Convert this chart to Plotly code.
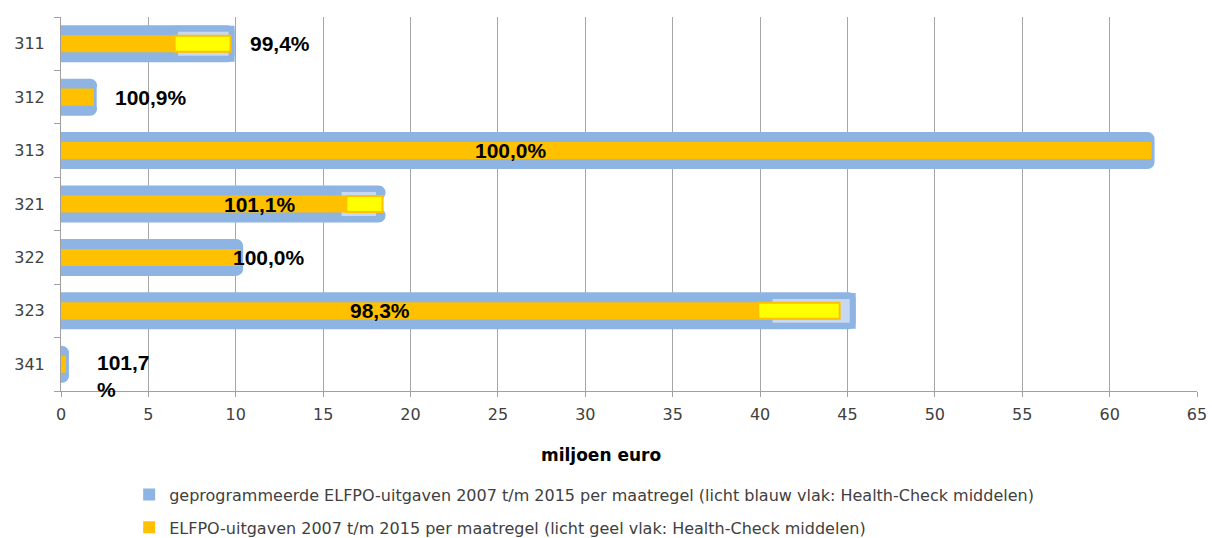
import plotly.graph_objects as go

categories = ["311", "312", "313", "321", "322", "323", "341"]
programmed = [9.76, 1.87, 62.4, 18.2, 10.25, 45.3, 0.28]
programmed_hc = [3.24, None, None, 2.32, None, 4.76, None]
spent = [9.70, 1.89, 62.4, 18.4, 10.25, 44.55, 0.285]
spent_hc = [3.2, None, None, 2.07, None, 4.65, None]
pct_labels = ["99,4%", "100,9%", "100,0%", "101,1%", "100,0%", "98,3%", "101,7<br>%"]
label_x = [10.69, 2.97, 23.55, 9.19, 9.7, 16.4, 1.94]
x_ticks = list(range(0, 70, 5))
legend_names = [
    "geprogrammeerde ELFPO-uitgaven 2007 t/m 2015 per maatregel (licht blauw vlak: Health-Check middelen)",
    "ELFPO-uitgaven 2007 t/m 2015 per maatregel (licht geel vlak: Health-Check middelen)",
]

BLUE = "#8DB4E2"
LIGHT_BLUE = "#C6D9F1"
ORANGE = "#FFC000"
YELLOW = "#FFFF00"
AXIS = "#A0A0A0"

ypos = list(range(len(categories)))
boundaries = [i - 0.5 for i in range(len(categories) + 1)]
prog_hc_base = [p - h if h is not None else None for p, h in zip(programmed, programmed_hc)]
spent_hc_base = [s - h if h is not None else None for s, h in zip(spent, spent_hc)]

fig = go.Figure()
fig.add_trace(go.Bar(
    y=ypos, x=programmed, orientation="h", width=0.58,
    marker=dict(color=BLUE, line=dict(color=BLUE, width=6), cornerradius=4),
    showlegend=False, hoverinfo="skip",
))
fig.add_trace(go.Bar(
    y=ypos, x=programmed_hc, base=prog_hc_base, orientation="h", width=0.56,
    marker=dict(color=LIGHT_BLUE, line=dict(color=BLUE, width=6)),
    showlegend=False, hoverinfo="skip",
))
fig.add_trace(go.Bar(
    y=ypos, x=spent, orientation="h", width=0.32,
    marker=dict(color=ORANGE, line=dict(width=0)),
    showlegend=False, hoverinfo="skip",
))
fig.add_trace(go.Bar(
    y=ypos, x=spent_hc, base=spent_hc_base, orientation="h", width=0.30,
    marker=dict(color=YELLOW, line=dict(color=ORANGE, width=2)),
    showlegend=False, hoverinfo="skip",
))
# legend entries
for nm, col, grp in zip(legend_names, [BLUE, ORANGE], ["a", "b"]):
    fig.add_trace(go.Bar(
        y=[None], x=[None], orientation="h", name=nm, legendgroup=grp,
        marker=dict(color=col, line=dict(width=0)), hoverinfo="skip",
    ))

for yp, txt, lx in zip(ypos, pct_labels, label_x):
    multi = "<br>" in txt
    fig.add_annotation(
        x=lx, y=yp, text="<b>" + txt + "</b>", showarrow=False,
        xanchor="left", yanchor="top" if multi else "middle", align="left",
        yshift=15 if multi else 0,
        font=dict(family="Liberation Sans, Arial, sans-serif", size=21, color="#000000"),
    )

fig.add_annotation(
    x=0.475, y=-0.17, xref="paper", yref="paper", showarrow=False,
    text="<b>miljoen euro</b>", xanchor="center", yanchor="middle",
    font=dict(family="DejaVu Sans, Verdana, sans-serif", size=17, color="#000000"),
)

fig.update_layout(
    width=1212, height=538,
    margin=dict(l=61, r=15, t=17, b=147),
    barmode="overlay",
    plot_bgcolor="white", paper_bgcolor="white",
    font=dict(family="DejaVu Sans, Verdana, sans-serif", size=16, color="#404040"),
    showlegend=True,
    legend=dict(
        x=0.060, y=0.1123, xref="paper", yref="container", xanchor="left", yanchor="top",
        orientation="v", traceorder="grouped", tracegroupgap=9,
        font=dict(family="DejaVu Sans, Verdana, sans-serif", size=16, color="#404040"),
        bgcolor="rgba(0,0,0,0)",
    ),
    xaxis=dict(
        range=[0, 65], tickvals=x_ticks, showgrid=True, gridcolor="#A6A6A6", gridwidth=1,
        showline=True, linecolor=AXIS, linewidth=1, automargin=False,
        ticks="outside", ticklen=5, tickcolor=AXIS, zeroline=False, ticklabelstandoff=4,
        tickfont=dict(size=16, color="#404040"),
    ),
    yaxis=dict(
        range=[len(categories) - 0.5, -0.5],
        tickvals=ypos, ticktext=categories, ticks="",
        minor=dict(tickvals=boundaries, ticks="outside", ticklen=6, tickcolor=AXIS, showgrid=False),
        showgrid=False, showline=True, linecolor=AXIS, linewidth=1, automargin=False,
        zeroline=False, ticklabelstandoff=12,
        tickfont=dict(size=16, color="#404040"),
    ),
)

fig.write_html(
    "out.html",
    config={"displayModeBar": False},
    post_script="document.body.style.margin='0';document.body.style.overflow='hidden';",
)
